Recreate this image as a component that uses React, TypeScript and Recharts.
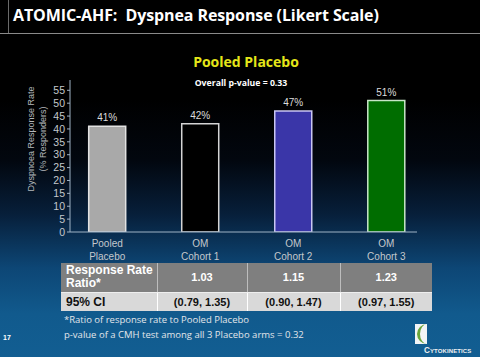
import { BarChart, Bar, XAxis, YAxis, Cell, LabelList } from 'recharts';

const groups = ['Pooled Placebo', 'OM Cohort 1', 'OM Cohort 2', 'OM Cohort 3'];
const groupLines = [['Pooled', 'Placebo'], ['OM', 'Cohort 1'], ['OM', 'Cohort 2'], ['OM', 'Cohort 3']];
const responseRate = [41, 42, 47, 51];
const barFills = ['#a9a9a9', '#000000', '#3a36a8', '#006d00'];
const barStrokes = ['#e2e2e2', '#d4d4d4', '#c9c6f2', '#c8e6c8'];
const yTicks = [0, 5, 10, 15, 20, 25, 30, 35, 40, 45, 50, 55];

const ratioValues = ['1.03', '1.15', '1.23'];
const ciValues = ['(0.79, 1.35)', '(0.90, 1.47)', '(0.97, 1.55)'];

const data = groups.map((name, i) => ({ pos: i + 1, name, rate: responseRate[i] }));

function GroupTick(props: any) {
    const { x, y, payload } = props;
    const lines = groupLines[payload.value - 1] || [];
    return (
        <text x={x} y={y} textAnchor="middle" fill="#c4c8cc" fontSize={10} fontFamily="'Liberation Sans', Arial, sans-serif">
            {lines.map((l, i) => (
                <tspan key={i} x={x} dy={i === 0 ? 7 : 12.5}>{l}</tspan>
            ))}
        </text>
    );
}

export default function App() {
    return (
        <div style={{
            position: 'absolute', left: 0, top: 0, width: 480, height: 357, overflow: 'hidden',
            background: 'linear-gradient(to bottom, #000 0%, #000 28%, #02070f 45%, #071f3a 60%, #0d4675 75%, #115a8d 88%, #125e92 100%)',
            fontFamily: "'Liberation Sans', Arial, sans-serif"
        }}>
            {/* header band */}
            <div style={{ position: 'absolute', left: 0, top: 0, width: 480, height: 33, background: '#000', borderBottom: '1px solid #8a8a8a' }} />
            <div style={{ position: 'absolute', left: 8, top: 0, width: 1, height: 33, background: '#6a6a6a' }} />
            <div style={{ position: 'absolute', left: 13, top: 4, color: '#fff', fontSize: 16, fontWeight: 'bold', fontFamily: "'Open Sans', sans-serif", whiteSpace: 'nowrap', letterSpacing: -0.1 }}>
                ATOMIC-AHF:&nbsp; Dyspnea Response (Likert Scale)
            </div>

            <div style={{ position: 'absolute', left: 0, width: 492, top: 52, textAlign: 'center', color: '#e6e619', fontSize: 14, fontWeight: 'bold', fontFamily: "'Open Sans', sans-serif" }}>
                Pooled Placebo
            </div>
            <div style={{ position: 'absolute', left: 0, width: 482, top: 77, textAlign: 'center', color: '#fff', fontSize: 8.7, fontWeight: 'bold', fontFamily: "'Open Sans', sans-serif" }}>
                Overall p-value = 0.33
            </div>

            <div style={{ position: 'absolute', left: 0, top: 0 }}>
                <BarChart width={480} height={357} data={data} margin={{ top: 80, right: 63, bottom: 95, left: 40 }}>
                    <XAxis
                        dataKey="pos"
                        type="number"
                        domain={[0.6, 4.33]}
                        ticks={[1, 2, 3, 4]}
                        allowDataOverflow
                        interval={0}
                        height={30}
                        tickLine={false}
                        stroke="#9fb3c6"
                        tick={<GroupTick />}
                    />
                    <YAxis
                        domain={[0, 59]}
                        ticks={yTicks}
                        interval={0}
                        width={30}
                        allowDataOverflow
                        stroke="#9fb3c6"
                        tickSize={3}
                        tick={{ fill: '#c4c8cc', fontSize: 10.5 }}
                        label={{
                            content: () => (
                                <text transform="translate(40,139) rotate(-90)" textAnchor="middle" fill="#b4b8bc" fontSize={9} fontFamily="'Liberation Sans', Arial, sans-serif">
                                    <tspan x={0} dy={-6}>Dyspnoea Response Rate</tspan>
                                    <tspan x={0} dy={11.5}>(% Responders)</tspan>
                                </text>
                            )
                        }}
                    />
                    <Bar dataKey="rate" barSize={37} isAnimationActive={false} strokeWidth={1.5}>
                        {data.map((d, i) => (
                            <Cell key={d.name} fill={barFills[i]} stroke={barStrokes[i]} />
                        ))}
                        <LabelList dataKey="rate" position="top" offset={5} fill="#dcdcdc" fontSize={10} formatter={(v: any) => `${v}%`} />
                    </Bar>
                </BarChart>
            </div>

            {/* table */}
            <table style={{ position: 'absolute', left: 61, top: 263, width: 371, borderCollapse: 'collapse', tableLayout: 'fixed', fontWeight: 'bold', fontSize: 11 }}>
                <colgroup>
                    <col style={{ width: 96 }} />
                    <col style={{ width: 90 }} />
                    <col style={{ width: 93 }} />
                    <col style={{ width: 92 }} />
                </colgroup>
                <tbody>
                    <tr style={{ height: 29, background: '#7f7f7f', color: '#fff' }}>
                        <td style={{ padding: '0 0 0 5px', fontSize: 12, lineHeight: '13px', borderRight: '1px solid #bdbdbd', borderBottom: '1px solid #eee' }}>Response Rate Ratio*</td>
                        {ratioValues.map((v, i) => (
                            <td key={v} style={{ textAlign: 'center', padding: 0, borderRight: i < 2 ? '1px solid #bdbdbd' : 'none', borderBottom: '1px solid #eee' }}>{v}</td>
                        ))}
                    </tr>
                    <tr style={{ height: 19, background: '#d9d9d9', color: '#111' }}>
                        <td style={{ padding: '0 0 0 5px', fontSize: 12, borderRight: '1px solid #fff' }}>95% CI</td>
                        {ciValues.map((v, i) => (
                            <td key={v} style={{ textAlign: 'center', padding: 0, borderRight: i < 2 ? '1px solid #fff' : 'none' }}>{v}</td>
                        ))}
                    </tr>
                </tbody>
            </table>

            <div style={{ position: 'absolute', left: 64, top: 313, color: '#e2e6ea', fontSize: 9.5, lineHeight: '14.5px', fontFamily: "'Open Sans', sans-serif", whiteSpace: 'nowrap' }}>
                <div>*Ratio of response rate to Pooled Placebo</div>
                <div>p-value of a CMH test among all 3 Placebo arms = 0.32</div>
            </div>

            <div style={{ position: 'absolute', left: 3, top: 334, color: '#fff', fontSize: 7, fontWeight: 'bold' }}>17</div>

            {/* logo */}
            <svg style={{ position: 'absolute', left: 412, top: 322 }} width={20} height={24}>
                <rect x={3} y={2} width={12} height={20} fill="#f2f4f6" />
                <path d="M15 2 A10 10 0 0 0 15 22 A7 10 0 0 1 15 2 Z" fill="#6aa53a" />
            </svg>
            <div style={{ position: 'absolute', left: 424, top: 346, color: '#f0f0f0', fontSize: 8.2, fontWeight: 'bold', fontVariant: 'small-caps', letterSpacing: 0.1, whiteSpace: 'nowrap' }}>
                Cytokinetics
            </div>
        </div>
    );
}
